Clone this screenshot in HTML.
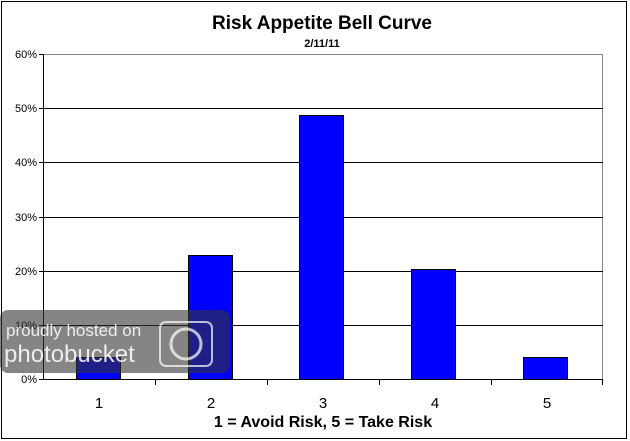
<!DOCTYPE html>
<html><head><style>
body{margin:0;background:#fff;}
svg{display:block;font-family:"Liberation Sans",Arial,sans-serif;}
</style></head><body>
<svg width="630" height="441" viewBox="0 0 630 441">
<rect x="1.5" y="1.5" width="625" height="437" fill="#fff" stroke="#000" stroke-width="1"/>
<text x="322" y="29" font-size="19" font-weight="bold" text-anchor="middle">Risk Appetite Bell Curve</text>
<text x="322" y="47" font-size="11" font-weight="bold" text-anchor="middle">2/11/11</text>
<rect x="43.5" y="54.5" width="559" height="325" fill="#fff" stroke="#888" stroke-width="1"/>
<g stroke="#000" stroke-width="1">
<line x1="43" y1="108.5" x2="603" y2="108.5"/>
<line x1="43" y1="162.5" x2="603" y2="162.5"/>
<line x1="43" y1="217.5" x2="603" y2="217.5"/>
<line x1="43" y1="271.5" x2="603" y2="271.5"/>
<line x1="43" y1="325.5" x2="603" y2="325.5"/>
<line x1="43.5" y1="54" x2="43.5" y2="380"/>
<line x1="43" y1="379.5" x2="603" y2="379.5"/>
<line x1="39" y1="54.5" x2="43" y2="54.5"/><line x1="39" y1="108.5" x2="43" y2="108.5"/><line x1="39" y1="162.5" x2="43" y2="162.5"/><line x1="39" y1="217.5" x2="43" y2="217.5"/><line x1="39" y1="271.5" x2="43" y2="271.5"/><line x1="39" y1="325.5" x2="43" y2="325.5"/><line x1="39" y1="379.5" x2="43" y2="379.5"/>
<line x1="155.5" y1="380" x2="155.5" y2="385"/><line x1="267.5" y1="380" x2="267.5" y2="385"/><line x1="379.5" y1="380" x2="379.5" y2="385"/><line x1="491.5" y1="380" x2="491.5" y2="385"/><line x1="602.5" y1="380" x2="602.5" y2="385"/>
</g>
<g font-size="11" text-anchor="end">
<text x="37" y="58">60%</text><text x="37" y="112">50%</text><text x="37" y="166">40%</text><text x="37" y="221">30%</text><text x="37" y="275">20%</text><text x="37" y="329">10%</text><text x="37" y="383">0%</text>
</g>
<g fill="#0000ff" stroke="#000" stroke-width="1">
<rect x="76.5" y="357.5" width="44" height="22"/>
<rect x="188.5" y="255.5" width="44" height="124"/>
<rect x="299.5" y="115.5" width="44" height="264"/>
<rect x="411.5" y="269.5" width="44" height="110"/>
<rect x="523.5" y="357.5" width="44" height="22"/>
</g>
<g font-size="15" text-anchor="middle">
<text x="99" y="408">1</text><text x="211" y="408">2</text><text x="323" y="408">3</text><text x="435" y="408">4</text><text x="547" y="408">5</text>
</g>
<text x="323" y="427" font-size="16" font-weight="bold" text-anchor="middle">1 = Avoid Risk, 5 = Take Risk</text>
<rect x="0" y="310" width="230" height="63" rx="8" fill="#333" fill-opacity="0.6"/>
<text x="6" y="336" font-size="17" fill="#fff" fill-opacity="0.85">proudly hosted on</text>
<text x="4" y="362" font-size="24" fill="#fff" fill-opacity="0.85">photobucket</text>
<rect x="160" y="322" width="52" height="44" rx="6" fill="none" stroke="#fff" stroke-opacity="0.7" stroke-width="2"/>
<circle cx="186" cy="344" r="15" fill="none" stroke="#fff" stroke-opacity="0.7" stroke-width="3"/>
</svg>
</body></html>
